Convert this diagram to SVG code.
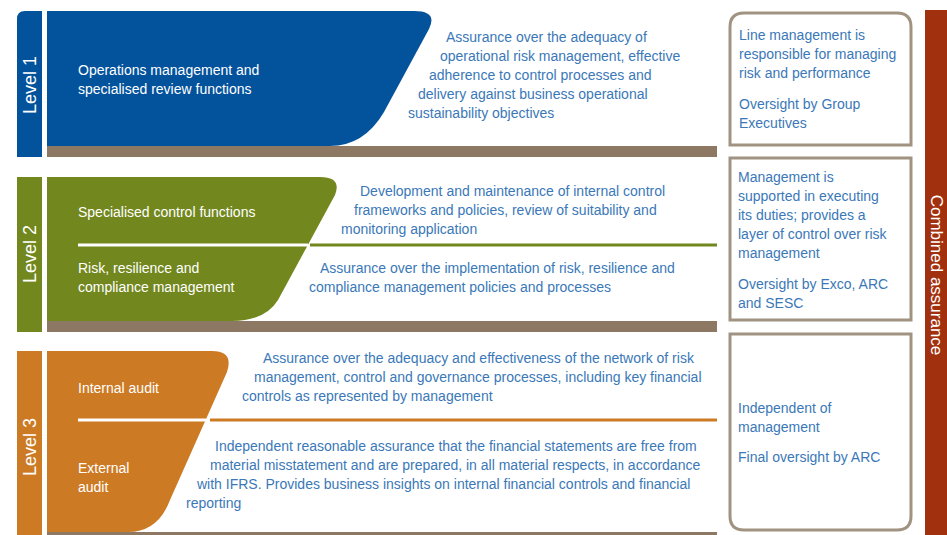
<svg xmlns="http://www.w3.org/2000/svg" width="947" height="535" viewBox="0 0 947 535">
<style>
text{font-family:"Liberation Sans",Arial,sans-serif}
.w{fill:#fff;font-size:14px}
.b{fill:#3a78b8;font-size:14px}
.lv{fill:#fff;font-size:18px}
.ca{fill:#fff;font-size:17px}
.brown{fill:#8c7863}
.box{fill:#fff;stroke:#a09381;stroke-width:3}
</style>
<rect width="947" height="535" fill="#fff"/>
<g id="level1">
<path d="M17,157 V19 Q17,11 25,11 H42 V157 Z" fill="#03529c"/>
<text class="lv" transform="translate(36,85) rotate(-90)" text-anchor="middle">Level 1</text>
<path d="M47,11 H414 Q438,11 429,29 L384,112 Q364,146 330,146 H47 Z" fill="#03529c"/>
<rect class="brown" x="47" y="146" width="670" height="11"/>
<text class="w" x="78" y="75">Operations management and</text>
<text class="w" x="78" y="94">specialised review functions</text>
<text class="b" x="446" y="42">Assurance over the adequacy of</text>
<text class="b" x="440" y="61">operational risk management, effective</text>
<text class="b" x="429" y="80">adherence to control processes and</text>
<text class="b" x="418" y="99">delivery against business operational</text>
<text class="b" x="408" y="118">sustainability objectives</text>
</g>
<g id="level2">
<rect x="17" y="177" width="25" height="155" fill="#72871e"/>
<text class="lv" transform="translate(36,254) rotate(-90)" text-anchor="middle">Level 2</text>
<path d="M47,177 H320 Q342,177 335,195 L278,300 Q265,321 232,321 H47 Z" fill="#72871e"/>
<rect class="brown" x="47" y="321" width="670" height="11"/>
<line x1="78" y1="245" x2="308" y2="245" stroke="#fff" stroke-width="3"/>
<line x1="310" y1="245" x2="717" y2="245" stroke="#72871e" stroke-width="3"/>
<text class="w" x="78" y="217">Specialised control functions</text>
<text class="w" x="78" y="273">Risk, resilience and</text>
<text class="w" x="78" y="292">compliance management</text>
<text class="b" x="360" y="196">Development and maintenance of internal control</text>
<text class="b" x="354" y="215">frameworks and policies, review of suitability and</text>
<text class="b" x="341" y="234">monitoring application</text>
<text class="b" x="320" y="273">Assurance over the implementation of risk, resilience and</text>
<text class="b" x="309" y="292">compliance management policies and processes</text>
</g>
<g id="level3">
<rect x="17" y="351" width="25" height="184" fill="#cd7a25"/>
<text class="lv" transform="translate(36,447) rotate(-90)" text-anchor="middle">Level 3</text>
<path d="M47,351 H212 Q234,351 227,372 L170,500 Q158,532 128,532 H47 Z" fill="#cd7a25"/>
<rect class="brown" x="47" y="532" width="670" height="3"/>
<line x1="78" y1="420" x2="206" y2="420" stroke="#fff" stroke-width="3"/>
<line x1="210" y1="420" x2="717" y2="420" stroke="#cd7a25" stroke-width="3"/>
<text class="w" x="78" y="393">Internal audit</text>
<text class="w" x="78" y="473">External</text>
<text class="w" x="78" y="492">audit</text>
<text class="b" x="263" y="363">Assurance over the adequacy and effectiveness of the network of risk</text>
<text class="b" x="254" y="382">management, control and governance processes, including key financial</text>
<text class="b" x="242" y="401">controls as represented by management</text>
<text class="b" x="215" y="451">Independent reasonable assurance that the financial statements are free from</text>
<text class="b" x="210" y="470">material misstatement and are prepared, in all material respects, in accordance</text>
<text class="b" x="197" y="489">with IFRS. Provides business insights on internal financial controls and financial</text>
<text class="b" x="186" y="508">reporting</text>
</g>
<g id="box1">
<path class="box" d="M730,145 V27 Q730,13 744,13 H897 Q911,13 911,27 V145 Z"/>
<text class="b" x="739" y="40">Line management is</text>
<text class="b" x="739" y="59">responsible for managing</text>
<text class="b" x="739" y="78">risk and performance</text>
<text class="b" x="739" y="109">Oversight by Group</text>
<text class="b" x="739" y="128">Executives</text>
</g>
<g id="box2">
<rect class="box" x="730" y="158" width="181" height="162"/>
<text class="b" x="738" y="182">Management is</text>
<text class="b" x="738" y="201">supported in executing</text>
<text class="b" x="738" y="220">its duties; provides a</text>
<text class="b" x="738" y="239">layer of control over risk</text>
<text class="b" x="738" y="258">management</text>
<text class="b" x="738" y="289">Oversight by Exco, ARC</text>
<text class="b" x="738" y="308">and SESC</text>
</g>
<g id="box3">
<path class="box" d="M730,334 H911 V516 Q911,530 897,530 H744 Q730,530 730,516 Z"/>
<text class="b" x="738" y="413">Independent of</text>
<text class="b" x="738" y="432">management</text>
<text class="b" x="738" y="462">Final oversight by ARC</text>
</g>
<g id="combined">
<rect x="925" y="10" width="22" height="525" fill="#a1300e"/>
<text class="ca" transform="translate(931,275) rotate(90)" text-anchor="middle">Combined assurance</text>
</g>
</svg>
